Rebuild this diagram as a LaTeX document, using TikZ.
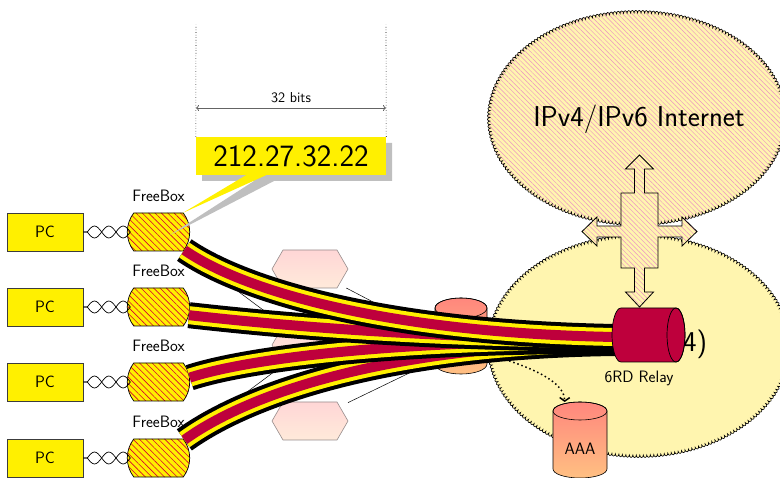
\documentclass[tikz,border=0pt]{standalone}
\usepackage{fontspec}
\usetikzlibrary{shapes.misc,patterns.meta,decorations.pathmorphing,arrows.meta,calc}
\definecolor{ylw}{RGB}{255,240,0}
\definecolor{crim}{RGB}{190,0,60}
\definecolor{cloudc}{RGB}{255,245,175}
\definecolor{hatchc}{RGB}{235,145,195}
\definecolor{fbhatch}{RGB}{215,0,50}
\definecolor{salmtop}{RGB}{255,135,125}
\definecolor{salmbot}{RGB}{255,192,130}
\definecolor{hextop}{RGB}{255,214,214}
\definecolor{hexbot}{RGB}{255,234,218}
\definecolor{hexline}{RGB}{150,140,140}
\definecolor{pcline}{RGB}{60,60,60}
\definecolor{dimc}{RGB}{100,100,100}
\newcommand\lblfont{\sffamily\fontsize{16.5}{19}\selectfont}
\newcommand\bitsfont{\sffamily\fontsize{14.4}{17}\selectfont}
\newcommand\bigfont{\sffamily\fontsize{28.7}{33}\selectfont}
\newcommand\ipfont{\sffamily\fontsize{31}{36}\selectfont}
\pgfdeclarelayer{back}
\pgfdeclarelayer{wires}
\pgfsetlayers{back,wires,main}
\begin{document}
\begin{tikzpicture}[x=1pt,y=-1pt,
  pcbox/.style={draw=pcline, line width=0.6pt, fill=ylw, minimum width=76pt, minimum height=38pt, inner sep=0pt, font=\lblfont},
  fbbox/.style={rounded rectangle, rounded rectangle arc length=75, draw, line width=0.7pt, minimum width=57pt, minimum height=38pt, inner sep=0pt, preaction={fill=ylw}, pattern={Lines[angle=-45,distance=4.5pt,line width=0.6pt]}, pattern color=fbhatch},
  lbl/.style={font=\lblfont, inner sep=0pt},
  twist/.style={line width=0.7pt},
  ghost/.style={inner sep=0pt, outer sep=0pt},
  hexdraw/.style={draw=hexline, line width=0.6pt, top color=hextop, bottom color=hexbot},
  thinline/.style={line width=0.5pt},
  cable/.style={line width=26pt, black, postaction={draw=ylw, line width=18pt}, postaction={draw=crim, line width=10pt}},
  cloudedge/.style={decorate, decoration={bumps, segment length=7pt, amplitude=2.6pt}, draw, line width=0.6pt},
  hatch/.style={preaction={fill=cloudc}, pattern={Lines[angle=-45,distance=3.4pt,line width=0.45pt]}, pattern color=hatchc},
  cyl/.style={draw, line width=0.6pt, top color=salmtop, bottom color=salmbot},
]
\useasboundingbox (0,0) rectangle (780,478);

% clouds
\begin{pgfonlayer}{back}
  \path[cloudedge, fill=cloudc] (639,346) ellipse [x radius=149, y radius=109];
  \node[font=\bigfont, anchor=base] (lowtext) at (643,352) {Free (IPv4)};
  \path[cloudedge, hatch] (637,118) ellipse [x radius=147, y radius=105];
  \node[font=\bigfont, anchor=base] (uptext) at (639,127) {IPv4/IPv6 Internet};
\end{pgfonlayer}

% four-way arrow
\draw[line width=0.8pt, hatch] (639.5,155) -- (653.5,169) -- (644.5,169) -- (644.5,193) -- (658,193) -- (658,226)
  -- (682,226) -- (682,217) -- (697,231.5) -- (682,246) -- (682,237) -- (658,237) -- (658,268)
  -- (644.5,268) -- (644.5,292) -- (653.5,292) -- (639.5,307) -- (625.5,292) -- (634.5,292) -- (634.5,268)
  -- (621,268) -- (621,237) -- (597,237) -- (597,246) -- (582,231.5) -- (597,217) -- (597,226)
  -- (621,226) -- (621,193) -- (634.5,193) -- (634.5,169) -- (625.5,169) -- cycle;

% PCs and FreeBoxes
\foreach \yy [count=\i] in {232,307,382,458} {
  \node[pcbox] (pc\i) at (45,\yy) {PC};
  \node[fbbox] (fb\i) at (158.5,\yy) {};
  \node[lbl, anchor=base] (fbl\i) at ($(fb\i.north)+(0,-11)$) {FreeBox};
  \draw[twist] (pc\i.east) -- ++(4,0) sin ++(7.17,-6) cos ++(7.17,6) sin ++(7.17,6) cos ++(7.17,-6) sin ++(7.17,-6) cos ++(7.17,6);
  \draw[twist] (pc\i.east) -- ++(4,0) sin ++(7.17,6) cos ++(7.17,-6) sin ++(7.17,-6) cos ++(7.17,6) sin ++(7.17,6) cos ++(7.17,-6);
}

% hexagons
\foreach \yy [count=\i] in {269,345,421} {
  \node[ghost, minimum width=76pt, minimum height=38pt] (hex\i) at (310,\yy) {};
  \draw[hexdraw] (hex\i.west) -- ($(hex\i.north west)+(11,0)$) -- ($(hex\i.north east)+(-11,0)$) -- (hex\i.east)
     -- ($(hex\i.south east)+(-11,0)$) -- ($(hex\i.south west)+(11,0)$) -- cycle;
}

% BAS cylinder
\node[ghost, minimum width=52pt, minimum height=76pt] (bas) at (461,336) {};
\coordinate (basc) at (461,348);
\draw[cyl] (435,308) -- (435,364) arc[start angle=180, end angle=0, x radius=26, y radius=10]
  -- (487,308) arc[start angle=0, end angle=-180, x radius=26, y radius=10] -- cycle;
\draw[line width=0.6pt] (461,308) ellipse [x radius=26, y radius=10];

% thin connections
\begin{pgfonlayer}{wires}
  \foreach \i in {1,...,4} { \draw[thinline] (fb\i) -- (hex2); }
  \foreach \i in {1,...,3} { \draw[thinline] (hex\i) -- (basc); }
\end{pgfonlayer}

% callout
\fill[black!25] (202,143) -- (392,143) -- (392,181) -- (274,181) -- (170,235) -- (254,181) -- (202,181) -- cycle;
\node[fill=ylw, minimum width=190pt, minimum height=38pt, inner sep=0pt, font=\ipfont] (ip) at (291,156) {212.27.32.22};
\fill[ylw] ($(ip.south)+(-45,0)$) -- (fb1.38) -- ($(ip.south)+(-25,0)$) -- cycle;

% AAA
\node[ghost, minimum width=54pt, minimum height=76pt] (aaa) at (580,440) {};
\draw[cyl] (553,411) -- (553,469) arc[start angle=180, end angle=0, x radius=27, y radius=9]
  -- (607,411) arc[start angle=0, end angle=-180, x radius=27, y radius=9] -- cycle;
\draw[line width=0.6pt] (580,411) ellipse [x radius=27, y radius=9];
\node[lbl, anchor=base] (aaal) at (580,455) {AAA};
\draw[line width=1.5pt, dash pattern=on 1.5pt off 2.8pt, {Straight Barb[length=3.5pt,width=10pt]}-{Straight Barb[length=3.5pt,width=10pt]}]
  (bas.-35) .. controls (515,362) and (565,378) .. (aaa.112);

% relay node (drawn after the cables)
\node[ghost, minimum width=73pt, minimum height=54pt] (relay) at (648.5,335) {};

% cables
\draw[cable] (fb4.35) .. controls (245,396) and (380,346) .. ($(relay.west)+(3,8)$);
\draw[cable] (fb3.8) .. controls (250,358) and (400,340) .. ($(relay.west)+(3,6)$);
\draw[cable] (fb2.-15) .. controls (250,322) and (400,338) .. ($(relay.west)+(3,4)$);
\draw[cable] (fb1.-35) .. controls (245,292) and (390,333) .. ($(relay.west)+(3,2)$);

% relay cylinder
\draw[line width=0.7pt, fill=crim] (621,308) -- (676,308) arc[start angle=-90, end angle=90, x radius=9, y radius=27]
  -- (621,362) arc[start angle=90, end angle=270, x radius=9, y radius=27] -- cycle;
\draw[line width=0.7pt] (676,335) ellipse [x radius=9, y radius=27];
\node[lbl, anchor=base] (relayl) at (639,383) {6RD Relay};

% dimension
\coordinate (d1) at (196,25);
\coordinate (d2) at (386,25);
\coordinate (a1) at (196,108);
\coordinate (a2) at (386,108);
\draw[dotted, line width=0.6pt] (ip.north west) -- (d1);
\draw[dotted, line width=0.6pt] (ip.north east) -- (d2);
\draw[dimc, line width=0.8pt, {To[length=3pt,width=6pt]}-{To[length=3pt,width=6pt]}] (a1) -- (a2)
  node[midway, above=5pt, font=\bitsfont, text=black, inner sep=0pt] {32 bits};
\end{tikzpicture}
\end{document}
